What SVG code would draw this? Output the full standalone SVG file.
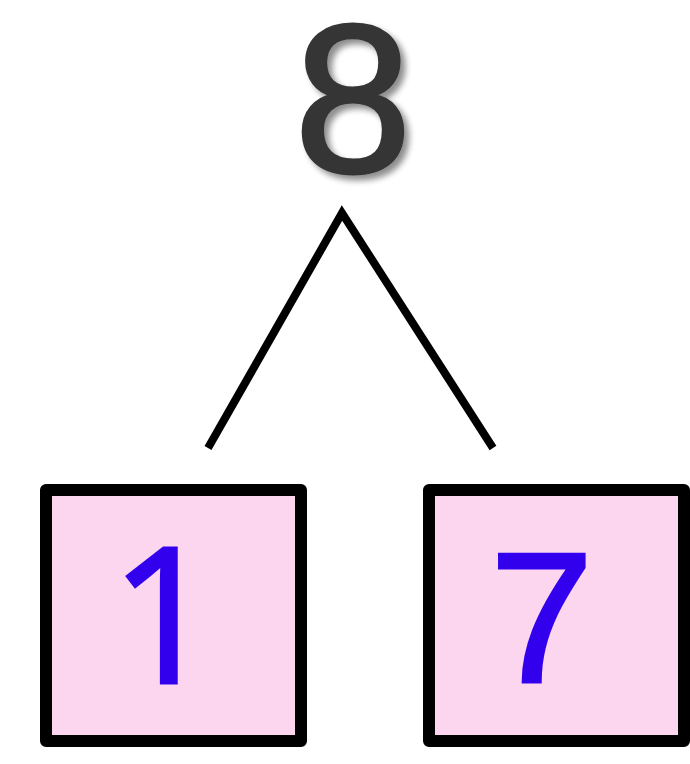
<svg xmlns="http://www.w3.org/2000/svg" width="690" height="764" viewBox="0 0 690 764">
<style>
.box{fill:#FCD6EE;stroke:#000;stroke-width:12;stroke-linejoin:round}
.num{font-family:"Liberation Sans",Arial,sans-serif;font-size:186px;fill:#3300EE;stroke:#3300EE;stroke-width:3}
.one{font-family:"Open Sans","Liberation Sans",sans-serif;font-weight:400;font-size:188px;fill:#3300EE;stroke:#3300EE;stroke-width:3}
.conn{fill:none;stroke:#000;stroke-width:8;stroke-linejoin:miter}
</style>
<defs>
<filter id="sh" x="-30%" y="-30%" width="170%" height="170%">
<feGaussianBlur in="SourceAlpha" stdDeviation="3"/>
<feOffset dx="5" dy="5" result="b"/>
<feComponentTransfer><feFuncA type="linear" slope="0.45"/></feComponentTransfer>
<feMerge><feMergeNode/><feMergeNode in="SourceGraphic"/></feMerge>
</filter>
</defs>
<rect width="690" height="764" fill="#fff"/>
<g id="node-8">
<text x="294" y="172" font-family="Liberation Sans,Arial,sans-serif" font-size="212" fill="#353535" stroke="#353535" stroke-width="3" filter="url(#sh)">8</text>
</g>
<g id="connectors">
<polyline class="conn" points="208,448 342,213 493,448"/>
</g>
<g id="node-1">
<rect class="box" x="46" y="490" width="255" height="251"/>
<text class="one" x="164" y="683" text-anchor="middle">1</text>
</g>
<g id="node-7">
<rect class="box" x="429" y="490" width="255" height="251"/>
<text class="num" x="490" y="682">7</text>
</g>
</svg>
